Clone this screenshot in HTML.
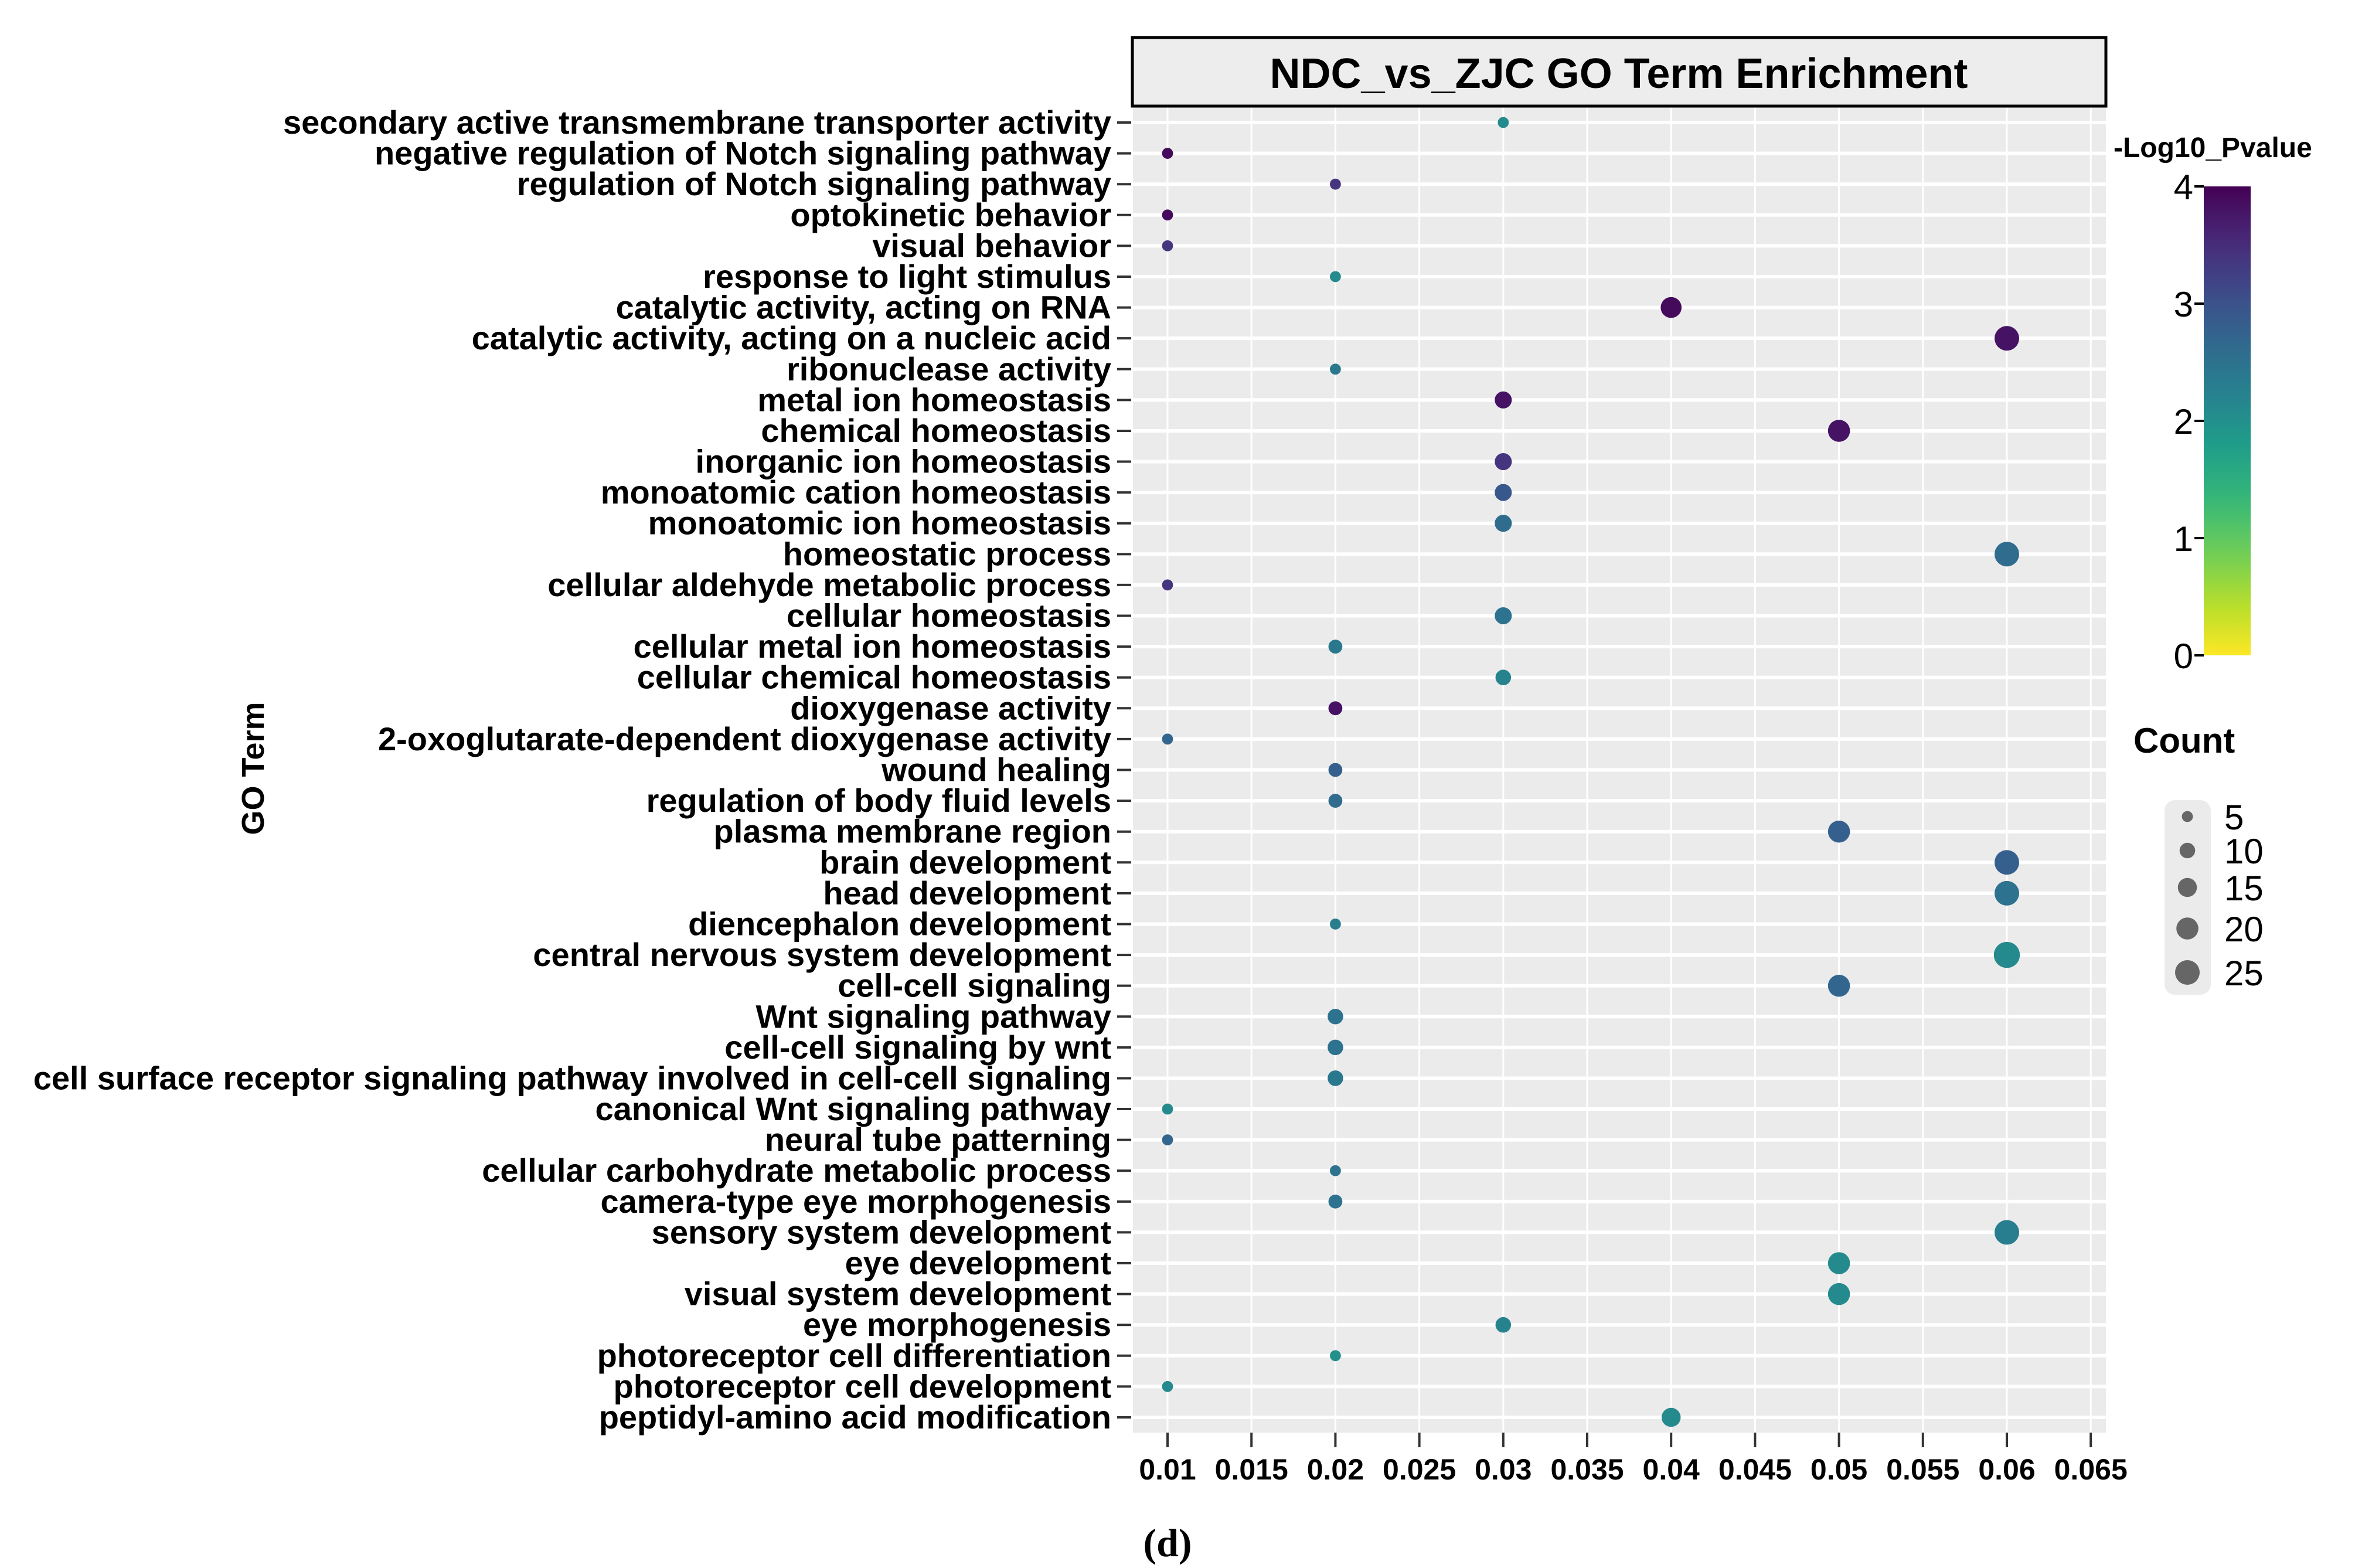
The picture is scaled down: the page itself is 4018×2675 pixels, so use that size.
<!DOCTYPE html>
<html><head><meta charset="utf-8"><style>
html,body{margin:0;padding:0;background:#fff;}
svg{display:block;font-family:"Liberation Sans",Arial,sans-serif;}
</style></head><body>
<svg id="chart" width="4018" height="2675" viewBox="0 0 4018 2675" xmlns="http://www.w3.org/2000/svg">
<rect width="4018" height="2675" fill="#fff"/>
<g id="panel"></g>
<g id="ylabels"></g>
<g id="xlabels"></g>
<g id="dots"></g>
<rect x="1932" y="64" width="1661" height="117" fill="#ededed" stroke="#000" stroke-width="5"/>
<text x="2762" y="150" text-anchor="middle" font-size="72" font-weight="bold">NDC_vs_ZJC GO Term Enrichment</text>
<text transform="translate(450,1311) rotate(-90)" text-anchor="middle" font-size="54" font-weight="bold">GO Term</text>
<text x="3606" y="268" font-size="48" font-weight="bold">-Log10_Pvalue</text>
<g id="cbar"></g>
<text x="3640" y="1284" font-size="60" font-weight="bold">Count</text>
<rect x="3693" y="1365" width="79" height="332" rx="18" fill="#ebebeb"/>
<g id="sizeleg"></g>
<text x="1992" y="2655" text-anchor="middle" font-size="68" font-weight="bold" font-family="'Liberation Serif',serif">(d)</text>
</svg>
<script>
const terms = ["secondary active transmembrane transporter activity","negative regulation of Notch signaling pathway","regulation of Notch signaling pathway","optokinetic behavior","visual behavior","response to light stimulus","catalytic activity, acting on RNA","catalytic activity, acting on a nucleic acid","ribonuclease activity","metal ion homeostasis","chemical homeostasis","inorganic ion homeostasis","monoatomic cation homeostasis","monoatomic ion homeostasis","homeostatic process","cellular aldehyde metabolic process","cellular homeostasis","cellular metal ion homeostasis","cellular chemical homeostasis","dioxygenase activity","2-oxoglutarate-dependent dioxygenase activity","wound healing","regulation of body fluid levels","plasma membrane region","brain development","head development","diencephalon development","central nervous system development","cell-cell signaling","Wnt signaling pathway","cell-cell signaling by wnt","cell surface receptor signaling pathway involved in cell-cell signaling","canonical Wnt signaling pathway","neural tube patterning","cellular carbohydrate metabolic process","camera-type eye morphogenesis","sensory system development","eye development","visual system development","eye morphogenesis","photoreceptor cell differentiation","photoreceptor cell development","peptidyl-amino acid modification"];
const ratio = [0.03,0.01,0.02,0.01,0.01,0.02,0.04,0.06,0.02,0.03,0.05,0.03,0.03,0.03,0.06,0.01,0.03,0.02,0.03,0.02,0.01,0.02,0.02,0.05,0.06,0.06,0.02,0.06,0.05,0.02,0.02,0.02,0.01,0.01,0.02,0.02,0.06,0.05,0.05,0.03,0.02,0.01,0.04];
const logp = [2.1,3.9,3.4,3.9,3.4,2.1,3.9,3.8,2.4,3.8,3.8,3.4,2.9,2.6,2.6,3.4,2.5,2.4,2.2,3.8,2.7,2.8,2.6,2.8,2.8,2.5,2.3,2.1,2.7,2.5,2.5,2.4,2.1,2.7,2.5,2.5,2.3,2.1,2.1,2.2,2.0,2.1,2.1];
const counts = [5,5,5,5,5,5,18,25,5,12,20,12,12,12,25,5,12,8,10,8,5,8,8,20,25,25,5,28,20,10,10,10,5,5,5,8,25,20,20,10,5,5,15];
const xTicks = [0.01,0.015,0.02,0.025,0.03,0.035,0.04,0.045,0.05,0.055,0.06,0.065];
const xTickLabels = ["0.01","0.015","0.02","0.025","0.03","0.035","0.04","0.045","0.05","0.055","0.06","0.065"];
const cbarTicks = [0,1,2,3,4];
const sizeBreaks = [5,10,15,20,25];

const NS="http://www.w3.org/2000/svg";
function mk(tag,attrs,parent){const e=document.createElementNS(NS,tag);for(const k in attrs)e.setAttribute(k,attrs[k]);parent.appendChild(e);return e;}
const PL=1933,PR=3593,PT=183,PB=2444;
const xS=v=>1992+(v-0.01)/0.005*143.2;
const yS=i=>209+i*(2418-209)/(terms.length-1);
const rS=c=>4.2*Math.sqrt(c);
const vir=[[68,1,84],[72,40,120],[62,74,137],[49,104,142],[38,130,142],[31,158,137],[53,183,121],[109,205,89],[180,222,44],[253,231,37]];
function col(v){let t=1-Math.max(0,Math.min(4,v))/4;const p=t*(vir.length-1),i=Math.min(vir.length-2,Math.floor(p)),f=p-i;
const c=vir[i].map((a,k)=>Math.round(a+(vir[i+1][k]-a)*f));return `rgb(${c[0]},${c[1]},${c[2]})`;}

const panel=document.getElementById('panel');
mk('rect',{x:PL,y:PT,width:PR-PL,height:PB-PT,fill:'#ebebeb'},panel);
xTicks.forEach((t,i)=>{const x=xS(t);
 const l=mk('line',{x1:x,x2:x,y1:PT,y2:PB,stroke:'#fff','stroke-width':3},panel);
 
 
 mk('line',{x1:x,x2:x,y1:PB,y2:PB+25,stroke:'#333','stroke-width':4},panel);
 const tx=mk('text',{x:x,y:2524,'text-anchor':'middle','font-size':50,'font-weight':'bold'},document.getElementById('xlabels'));
 tx.textContent=xTickLabels[i];
 
 
});
const yl=document.getElementById('ylabels');
terms.forEach((t,i)=>{const y=yS(i);
 const l=mk('line',{x1:PL,x2:PR,y1:y,y2:y,stroke:'#fff','stroke-width':6},panel);
 
 
 mk('line',{x1:1906,x2:1930,y1:y,y2:y,stroke:'#333','stroke-width':4},panel);
 const tx=mk('text',{x:1896,y:y+19,'text-anchor':'end','font-size':56,'font-weight':'bold'},yl);
 tx.textContent=t;
 
 
});
const dots=document.getElementById('dots');
terms.forEach((t,i)=>{
 const c=mk('circle',{cx:xS(ratio[i]),cy:yS(i),r:rS(counts[i]),fill:col(logp[i])},dots);
 
 
});
const cb=document.getElementById('cbar');
const defs=mk('defs',{},cb);
const g=mk('linearGradient',{id:'vg',x1:0,y1:1,x2:0,y2:0},defs);
for(let k=0;k<=20;k++){mk('stop',{offset:(k/20),'stop-color':col(k/20*4)},g);}
const cbY=v=>1118-v*200;
mk('rect',{x:3760,y:cbY(4),width:80,height:800,fill:'url(#vg)'},cb);
cbarTicks.forEach(v=>{const y=cbY(v);
 mk('line',{x1:3744,x2:3760,y1:y,y2:y,stroke:'#000','stroke-width':4},cb);
 const tx=mk('text',{x:3742,y:y+22,'text-anchor':'end','font-size':60},cb);
 tx.textContent=String(v);
 
 
});
const sl=document.getElementById('sizeleg');
const sy=[1393,1451,1514,1584,1659];
sizeBreaks.forEach((s,i)=>{
 const c=mk('circle',{cx:3732,cy:sy[i],r:rS(s),fill:'#666'},sl);
 
 
 const tx=mk('text',{x:3795,y:sy[i]+22,'font-size':60},sl);
 tx.textContent=String(s);
 
 
});
</script>
</body></html>
